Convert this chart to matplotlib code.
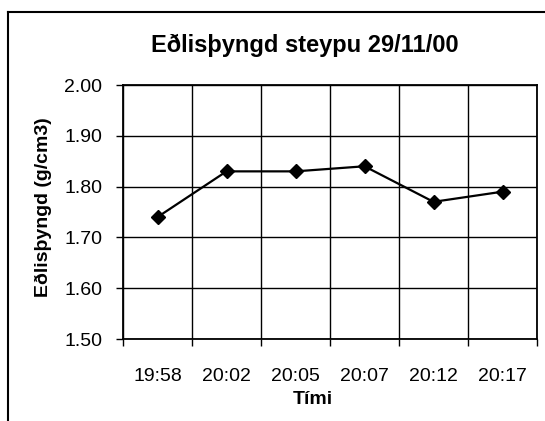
import numpy as np
import matplotlib.pyplot as plt
from matplotlib.lines import Line2D

# Eðlisþyngd steypu 29/11/00
times = ['19:58', '20:02', '20:05', '20:07', '20:12', '20:17']
density = [1.74, 1.83, 1.83, 1.84, 1.77, 1.79]
yticks = [1.50, 1.60, 1.70, 1.80, 1.90, 2.00]

plt.rcParams['font.family'] = ['Liberation Sans', 'DejaVu Sans']

W, H = 545, 421
fig = plt.figure(figsize=(W / 100, H / 100), dpi=100)
ax = fig.add_axes([123 / W, 1 - 339 / H, (537 - 123) / W, (339 - 85) / H])

x = np.arange(len(times))
ax.plot(x, density, color='black', lw=1.6, marker='D', markersize=7.5, zorder=3)

ax.set_xlim(-0.5, len(times) - 0.5)
ax.set_ylim(1.5, 2.0)
ax.set_yticks(yticks)
ax.set_yticklabels(['%.2f' % v for v in yticks], fontsize=14)
ax.set_xticks(x)
ax.set_xticklabels(times, fontsize=14)
ax.set_xticks(np.arange(-0.5, len(times)), minor=True)
ax.tick_params(axis='x', which='major', length=0, pad=21)
ax.tick_params(axis='x', which='minor', length=5, width=1, direction='out')
ax.tick_params(axis='y', length=5, width=1, direction='out', pad=10)

ax.grid(True, axis='y', color='black', lw=1)
ax.grid(True, axis='x', which='minor', color='black', lw=1)
ax.set_axisbelow(True)
for s in ax.spines.values():
    s.set_linewidth(1.3)

fig.text(305 / W, 1 - 45 / H, 'Eðlisþyngd steypu 29/11/00', fontsize=17,
         fontweight='bold', ha='center', va='center')
fig.text(313 / W, 1 - 400 / H, 'Tími', fontsize=14, fontweight='bold',
         ha='center', va='center')
fig.text(43 / W, 1 - 207 / H, 'Eðlisþyngd (g/cm3)', fontsize=14,
         fontweight='bold', ha='center', va='center', rotation=90)

# outer chart frame (cut on the right and bottom)
fig.add_artist(Line2D([8 / W, 1.0], [1 - 12 / H] * 2, color='black', lw=1.5,
                      transform=fig.transFigure))
fig.add_artist(Line2D([8 / W] * 2, [1 - 12 / H, 0.0], color='black', lw=1.5,
                      transform=fig.transFigure))

fig.savefig('out.png', dpi=100)
